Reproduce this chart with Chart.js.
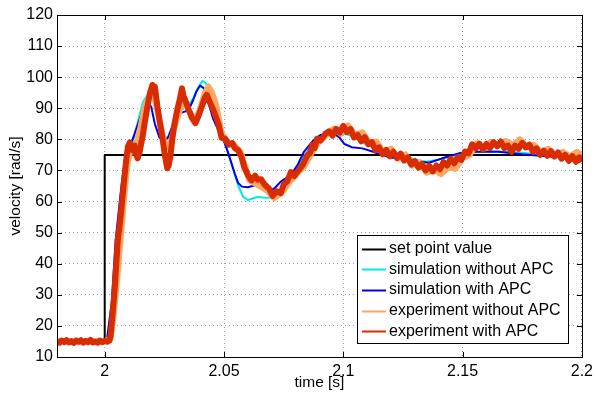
<!DOCTYPE html>
<html>
<head>
<meta charset="utf-8">
<script src="https://cdn.jsdelivr.net/npm/chart.js@4/dist/chart.umd.min.js"></script>
<style>
  body { margin: 0; background: #fff; }
  #wrap { width: 598px; height: 396px; }
</style>
</head>
<body>
<div id="wrap"><canvas id="velocityChart" width="598" height="396"></canvas></div>
<script>
// series names (legend order)
const seriesNames = ["set point value", "simulation without APC", "simulation with APC", "experiment without APC", "experiment with APC"];
const seriesColors = ["#000000", "#00eaea", "#0000ee", "#fca864", "#d92c00"];

const xTickValues = [2, 2.05, 2.1, 2.15, 2.2];
const xTickLabels = ["2", "2.05", "2.1", "2.15", "2.2"];

// set point
const setX = [1.98, 2.0, 2.0, 2.2];
const setY = [15, 15, 75, 75];

// simulation without APC
const simNoX = [1.98, 2.0, 2.002, 2.004, 2.006, 2.008, 2.010, 2.012, 2.014, 2.016, 2.0185, 2.020, 2.022, 2.024, 2.0255, 2.027, 2.029, 2.031, 2.033, 2.035, 2.037, 2.039, 2.041, 2.0425, 2.044, 2.046, 2.048, 2.050, 2.052, 2.054, 2.056, 2.058, 2.060, 2.062, 2.064, 2.067, 2.070, 2.0725, 2.075, 2.078, 2.081, 2.084, 2.087, 2.090, 2.093, 2.096, 2.099, 2.102, 2.105, 2.108, 2.111, 2.115, 2.12, 2.125, 2.13, 2.135, 2.14, 2.145, 2.15, 2.16, 2.17, 2.18, 2.19, 2.2];
const simNoY = [15, 15, 16, 30, 45, 60, 72, 80, 86, 92, 95, 94, 88, 82, 80.5, 81, 84, 88, 90, 91, 93, 96.5, 98.8, 98, 95, 89, 84, 80, 75, 70, 65, 61.5, 60.5, 61, 61.5, 61.2, 61.3, 62.5, 65, 68, 71.5, 75, 78.5, 80.5, 81.5, 82, 82, 81.5, 80.5, 79, 78, 76.5, 75.5, 74.5, 73.5, 72.8, 73.5, 74.5, 75.5, 76.2, 76, 75.3, 74.8, 74.3];

// simulation with APC
const simX = [1.98, 2.0, 2.001, 2.003, 2.0046, 2.007, 2.009, 2.0117, 2.014, 2.016, 2.018, 2.0195, 2.021, 2.023, 2.0248, 2.0265, 2.028, 2.0297, 2.0315, 2.0338, 2.0355, 2.037, 2.0385, 2.040, 2.0415, 2.043, 2.0455, 2.0476, 2.049, 2.0518, 2.0545, 2.0559, 2.0575, 2.06, 2.0635, 2.066, 2.069, 2.0715, 2.0738, 2.078, 2.081, 2.0835, 2.0876, 2.0904, 2.0959, 2.0985, 2.1005, 2.1035, 2.108, 2.1125, 2.116, 2.12, 2.125, 2.13, 2.136, 2.1415, 2.1484, 2.155, 2.165, 2.175, 2.185, 2.193, 2.2];
const simY = [15, 15, 16, 28, 47.7, 65, 76.5, 80, 85, 89.5, 91.5, 90.5, 85, 80.5, 79.3, 80.5, 83.5, 86.2, 88.4, 89, 90, 92.5, 95.5, 97.3, 96.5, 93, 86.5, 83, 81.5, 75.5, 69, 66, 64.8, 64.6, 65.3, 64.5, 63.2, 64.5, 66.4, 68.5, 72, 76, 79.8, 81.4, 82, 80.5, 78.5, 77.5, 77.1, 76, 75, 74.2, 73.6, 73, 72.5, 73.9, 75.5, 76, 76, 75.2, 74.6, 74.2, 74];

// experiment without APC
const expNoX = [1.98, 2.0, 2.0025, 2.004, 2.006, 2.008, 2.0095, 2.011, 2.013, 2.015, 2.017, 2.0193, 2.021, 2.023, 2.025, 2.0262, 2.028, 2.030, 2.0325, 2.0335, 2.0355, 2.038, 2.040, 2.042, 2.0435, 2.045, 2.0469, 2.049, 2.0515, 2.0545, 2.057, 2.059, 2.0605, 2.0625, 2.0642, 2.066, 2.068, 2.0711, 2.0735, 2.0752, 2.077, 2.079, 2.081, 2.0835, 2.087, 2.090,
  2.093, 2.096, 2.099, 2.102, 2.105, 2.108, 2.111, 2.114, 2.117, 2.120, 2.123, 2.126, 2.129, 2.132, 2.135, 2.138, 2.141, 2.144, 2.147, 2.150, 2.153, 2.156, 2.159, 2.162, 2.165, 2.168, 2.171, 2.174, 2.177, 2.180, 2.183, 2.186, 2.189, 2.192, 2.195, 2.198, 2.2];
const expNoY = [15, 15, 16, 25, 42, 60, 72, 77, 78, 84, 91, 94.8, 93, 86, 79, 77.5, 80, 86, 91.5, 92.5, 89, 86.2, 90, 95, 97, 95, 90.5, 82, 79, 78, 76, 71, 67, 66, 65.3, 64.5, 63.5, 61.1, 62.5, 63.7, 66, 67.5, 69.5, 71.2, 76, 79.5,
  81.5, 83.5, 81.8, 84.5, 81.5, 82.3, 79.0, 79.3, 75.5, 77.0, 73.8, 75.2, 71.5, 72.5, 69.3, 70.2, 68.8, 71.0, 70.5, 74.0, 75.0, 78.8, 77.0, 79.2, 78.0, 79.5, 78.2, 80.0, 77.5, 78.2, 75.8, 77.0, 74.8, 76.0, 74.5, 76.0, 75.0];

// experiment with APC
const expX = [1.98, 1.981, 1.982, 1.983, 1.984, 1.985, 1.986, 1.987, 1.988, 1.989, 1.990, 1.991, 1.992, 1.993, 1.994, 1.995, 1.996, 1.997, 1.998, 1.999, 2.000, 2.001, 2.002,
  2.0025, 2.004, 2.0055, 2.0068, 2.0076, 2.0088, 2.0097, 2.0105, 2.011, 2.0117, 2.0125, 2.0132, 2.0138, 2.0145, 2.0159, 2.0168, 2.0179, 2.019, 2.020, 2.0205, 2.021, 2.0221, 2.023, 2.0241, 2.0252, 2.0262, 2.0268, 2.0276, 2.0283, 2.029, 2.0304, 2.0315, 2.0324, 2.033, 2.0338, 2.0352, 2.0365, 2.038, 2.0393, 2.0407, 2.042, 2.0428, 2.044, 2.0455, 2.0476,
  2.049, 2.0505, 2.052, 2.0535, 2.0545, 2.056, 2.0573, 2.0585, 2.06, 2.0615, 2.063, 2.0642, 2.0655, 2.067, 2.0688, 2.0704, 2.072, 2.0738, 2.075, 2.0765, 2.078, 2.0795, 2.0814, 2.083, 2.0849, 2.086, 2.087, 2.088, 2.089, 2.0905, 2.0925,
  2.0940, 2.0955, 2.0970, 2.0985, 2.1000, 2.1015, 2.1030, 2.1045, 2.1060, 2.1075, 2.1090, 2.1105, 2.1120, 2.1135, 2.1150, 2.1165, 2.1180, 2.1195, 2.1210, 2.1225, 2.1240, 2.1255, 2.1270, 2.1285, 2.1300, 2.1315, 2.1330, 2.1345, 2.1360, 2.1375, 2.1390, 2.1405, 2.1420, 2.1435, 2.1450, 2.1465, 2.1480, 2.1495, 2.1510, 2.1525, 2.1540, 2.1555, 2.1570, 2.1585, 2.1600, 2.1615, 2.1630, 2.1645, 2.1660, 2.1675, 2.1690, 2.1705, 2.1720, 2.1735, 2.1750, 2.1765, 2.1780, 2.1795, 2.1810, 2.1825, 2.1840, 2.1855, 2.1870, 2.1885, 2.1900, 2.1915, 2.1930, 2.1945, 2.1960, 2.1975, 2.1990, 2.2000];
const expY = [15.2, 14.6, 15.3, 14.8, 15.4, 14.7, 15.1, 14.5, 15.3, 14.9, 15.4, 14.6, 15.2, 14.8, 15.5, 14.7, 15.0, 14.6, 15.3, 14.8, 15.2, 14.9, 15.3,
  17, 30, 47.7, 56, 62.7, 72, 77.7, 79, 77.5, 76.5, 78, 75, 73.9, 75.5, 81, 85.5, 90.5, 95, 97.5, 96, 97, 90.5, 86, 80.9, 75, 70.7, 71.5, 75, 79.8, 84, 89.5, 93, 96.4, 94, 92.5, 89.5, 87, 85.2, 87.5, 90.5, 93.5, 94.3, 92, 89.5, 85.2,
  80.5, 80.2, 78.3, 78.8, 77.2, 76.4, 74.4, 71, 68.5, 66.8, 68.3, 67, 67.2, 65.5, 64.2, 61.8, 63.3, 62.7, 65.5, 66.5, 69.5, 68.2, 70.2, 71.8, 74.9, 75.5, 78.2, 77.2, 80.2, 79.6, 81.8,
  82.6, 81.2, 83.4, 82.2, 84.3, 82.4, 83.3, 80.6, 81.4, 79.4, 80.7, 78.4, 79.1, 76.5, 77.4, 75.2, 76.6, 74.6, 76.0, 74.0, 75.4, 73.2, 74.2, 71.9, 73.0, 70.9, 72.1, 70.0, 71.5, 69.7, 71.6, 70.4, 72.7, 71.6, 73.7, 72.3, 74.3, 73.4, 76.1, 75.5, 78.4, 77.1, 78.6, 76.8, 78.5, 77.2, 79.1, 77.8, 79.3, 77.2, 78.0, 76.0, 78.0, 77.0, 78.9, 77.4, 78.3, 76.0, 77.1, 75.0, 76.4, 74.7, 76.2, 74.5, 75.8, 73.8, 75.0, 73.1, 74.6, 72.8, 74.2, 72.8];

function zip(xs, ys) {
  return xs.map((x, i) => ({ x: x, y: ys[i] }));
}

const FONT = "'Liberation Sans', Arial, Helvetica, sans-serif";

// frame, inside tick marks and the boxed legend (MATLAB look)
const matlabAxes = {
  id: 'matlabAxes',
  afterDatasetsDraw(chart) {
    const { ctx, chartArea: a, scales } = chart;
    ctx.save();
    ctx.strokeStyle = '#000';
    ctx.lineWidth = 1;
    ctx.beginPath();
    xTickValues.forEach(v => {
      const px = Math.round(scales.x.getPixelForValue(v)) + 0.5;
      ctx.moveTo(px, a.bottom); ctx.lineTo(px, a.bottom - 5);
      ctx.moveTo(px, a.top); ctx.lineTo(px, a.top + 5);
    });
    for (let v = 10; v <= 120; v += 10) {
      const py = Math.round(scales.y.getPixelForValue(v)) + 0.5;
      ctx.moveTo(a.left, py); ctx.lineTo(a.left + 5, py);
      ctx.moveTo(a.right, py); ctx.lineTo(a.right - 5, py);
    }
    ctx.stroke();
    ctx.strokeRect(Math.round(a.left) + 0.5, Math.round(a.top) + 0.5, Math.round(a.width), Math.round(a.height));
    ctx.restore();
  },
  afterDraw(chart) {
    const ctx = chart.ctx;
    const box = { x: 357, y: 235, w: 211, h: 108 };
    ctx.save();
    ctx.fillStyle = '#fff';
    ctx.fillRect(box.x, box.y, box.w, box.h);
    ctx.strokeStyle = '#000';
    ctx.lineWidth = 1;
    ctx.strokeRect(box.x + 0.5, box.y + 0.5, box.w, box.h);
    ctx.font = '16px ' + FONT;
    ctx.textBaseline = 'middle';
    ctx.fillStyle = '#000';
    seriesNames.forEach((name, i) => {
      const yy = 248.5 + i * 20.7;
      ctx.strokeStyle = seriesColors[i];
      ctx.lineWidth = 2;
      ctx.beginPath();
      ctx.moveTo(362, Math.round(yy) + 0.5);
      ctx.lineTo(386, Math.round(yy) + 0.5);
      ctx.stroke();
      ctx.fillText(name, 389, yy);
    });
    ctx.restore();
  }
};

const seriesData = [zip(setX, setY), zip(simNoX, simNoY), zip(simX, simY), zip(expNoX, expNoY), zip(expX, expY)];
const widths = [2, 2, 2, 6, 6];

new Chart(document.getElementById('velocityChart').getContext('2d'), {
  type: 'line',
  data: {
    datasets: seriesData.map((d, i) => ({
      label: seriesNames[i],
      data: d,
      borderColor: seriesColors[i],
      backgroundColor: seriesColors[i],
      borderWidth: widths[i],
      pointRadius: 0,
      fill: false,
      tension: 0,
      borderJoinStyle: 'round',
      order: 4 - i
    }))
  },
  options: {
    responsive: false,
    animation: false,
    layout: { padding: { top: 15, right: 11, left: 0, bottom: 0 } },
    plugins: { legend: { display: false }, tooltip: { enabled: false } },
    scales: {
      x: {
        type: 'linear',
        min: 1.98,
        max: 2.2,
        afterBuildTicks: (scale) => { scale.ticks = xTickValues.map(v => ({ value: v })); },
        afterFit: (scale) => { scale.height = 39; },
        ticks: {
          autoSkip: false,
          maxRotation: 0,
          padding: 5,
          color: '#000',
          font: { family: FONT, size: 16 },
          callback: (v, i) => xTickLabels[i]
        },
        grid: { color: '#a0a0a0', drawTicks: false, lineWidth: 1 },
        border: { display: false, dash: [1, 3] },
        title: { display: true, text: 'time [s]', color: '#000', font: { family: FONT, size: 15.5 }, padding: { top: 0, bottom: 4 } }
      },
      y: {
        min: 10,
        max: 120,
        afterFit: (scale) => { scale.width = 57; },
        ticks: {
          stepSize: 10,
          padding: 4,
          color: '#000',
          font: { family: FONT, size: 16 }
        },
        grid: { color: '#a0a0a0', drawTicks: false, lineWidth: 1 },
        border: { display: false, dash: [1, 3] },
        title: { display: true, text: 'velocity [rad/s]', color: '#000', font: { family: FONT, size: 15.5 }, padding: { top: 6, bottom: 0 } }
      }
    }
  },
  plugins: [matlabAxes]
});
</script>
</body>
</html>
